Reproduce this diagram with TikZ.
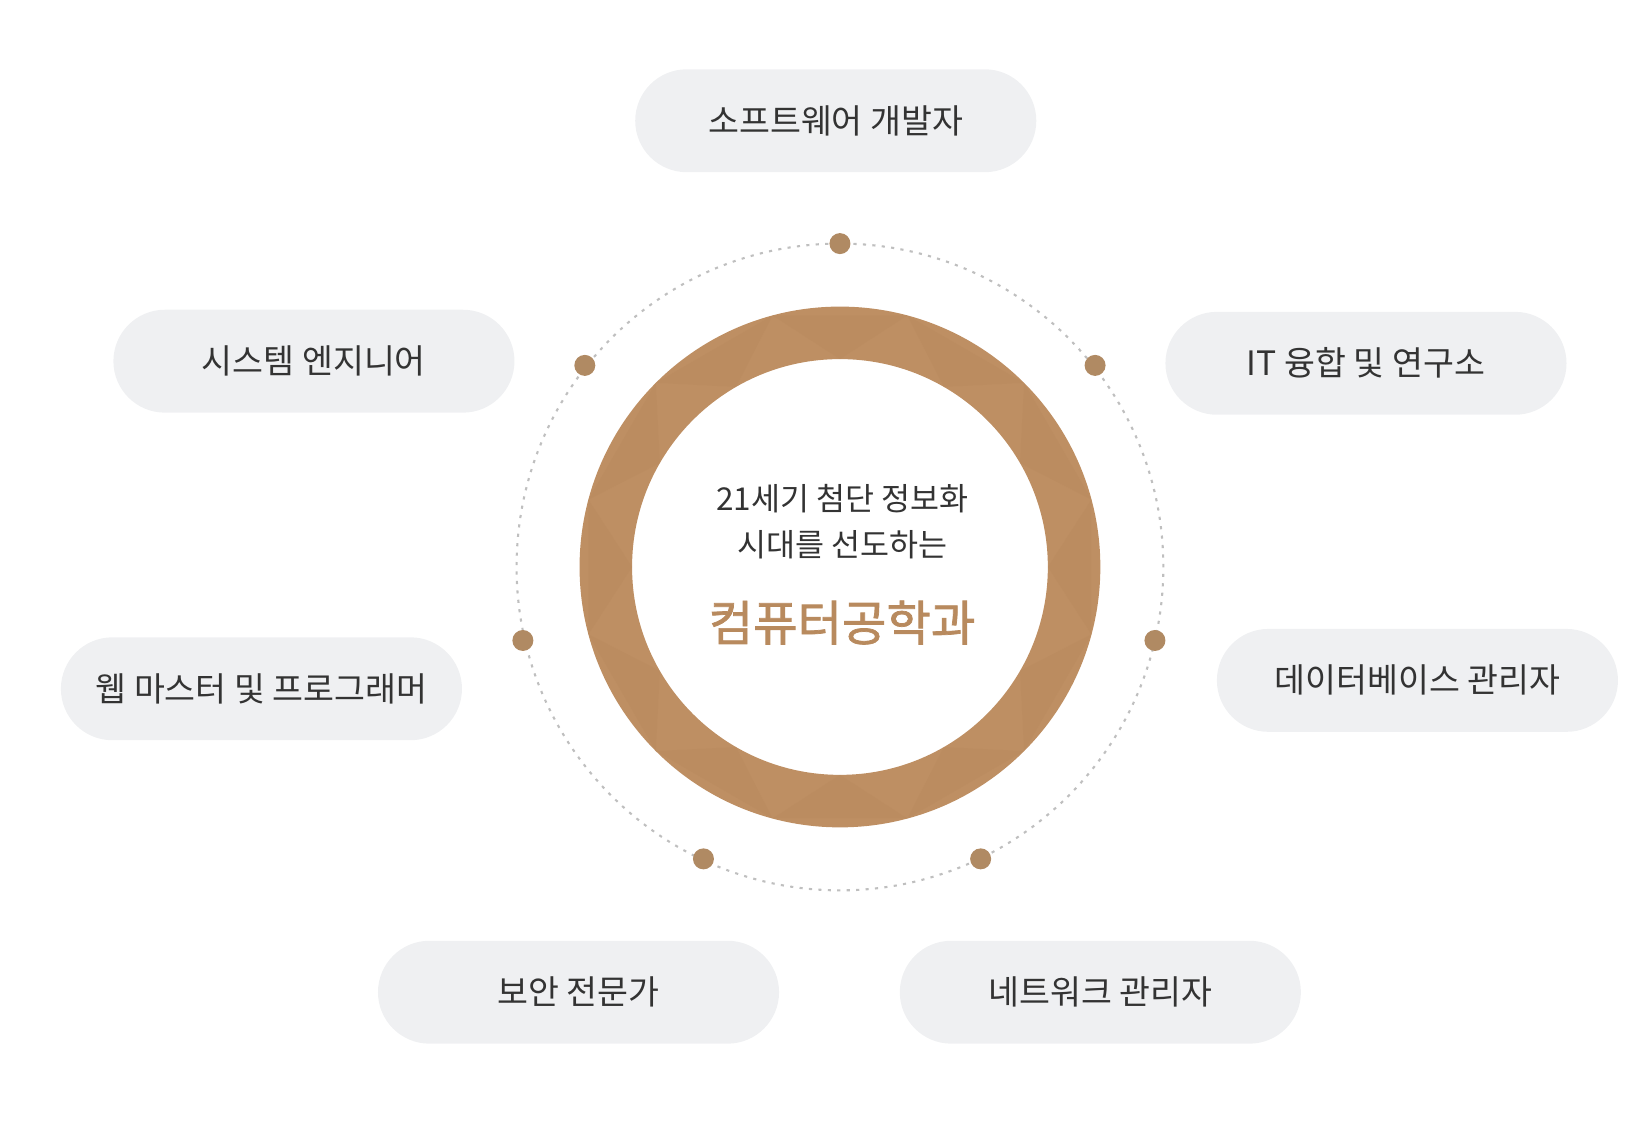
\documentclass[tikz,border=0pt]{standalone}
\usepackage{fontspec}
\usetikzlibrary{calc}
\newfontfamily\kr{Noto Sans CJK KR}
\newfontfamily\krb[FakeBold=1.5]{Noto Sans CJK KR}
\definecolor{pillbg}{HTML}{EFF0F2}
\definecolor{txt}{HTML}{333333}
\definecolor{ring}{HTML}{BE8F63}
\definecolor{ringd}{HTML}{B98A5E}
\definecolor{dotc}{HTML}{B08A63}
\definecolor{titlec}{HTML}{B88A5E}
\tikzset{
  pill/.style={draw=none,fill=pillbg,rounded corners=24.5pt,minimum width=191pt,minimum height=49pt,font=\kr\fontsize{16pt}{18pt}\selectfont,text=txt},
  bead/.style={circle,fill=dotc,inner sep=0pt,minimum size=10pt},
}
\begin{document}
\begin{tikzpicture}[x=0.5pt,y=-0.5pt]
\useasboundingbox (0,0) rectangle (1562,1067);
\coordinate (c) at (800,540);
\draw[gray!50,line width=1pt,dash pattern=on 1.5pt off 3pt] (c) circle[radius=154pt];
\fill[ring,even odd rule] (c) circle[radius=124pt] (c) circle[radius=99pt];
\foreach \a in {0,30,...,330}{
  \fill[ringd,opacity=0.5] ($(c)+(\a:99pt)$) -- ($(c)+(\a+15:124pt)$) -- ($(c)+(\a-15:124pt)$) -- cycle;
}
\node[bead] (d1) at (800,232) {};
\node[bead] (d2) at (557,348) {};
\node[bead] (d3) at (1043,348) {};
\node[bead] (d4) at (498,610) {};
\node[bead] (d5) at (1100,610) {};
\node[bead] (d6) at (670,818) {};
\node[bead] (d7) at (934,818) {};
\node[pill] (p1) at (796,115) {소프트웨어 개발자};
\node[pill] (p2) at (299,344) {시스템 엔지니어};
\node[pill] (p3) at (1301,346) {IT 융합 및 연구소};
\node[pill] (p4) at (249,656) {웹 마스터 및 프로그래머};
\node[pill] (p5) at (1350,648) {데이터베이스 관리자};
\node[pill] (p6) at (551,945) {보안 전문가};
\node[pill] (p7) at (1048,945) {네트워크 관리자};
\node[font=\kr\fontsize{15pt}{22pt}\selectfont,text=txt,align=center] (t1) at (802,497) {21세기 첨단 정보화\\시대를 선도하는};
\node[font=\krb\fontsize{23pt}{26pt}\selectfont,text=titlec] (t2) at (802,593) {컴퓨터공학과};
\end{tikzpicture}
\end{document}
